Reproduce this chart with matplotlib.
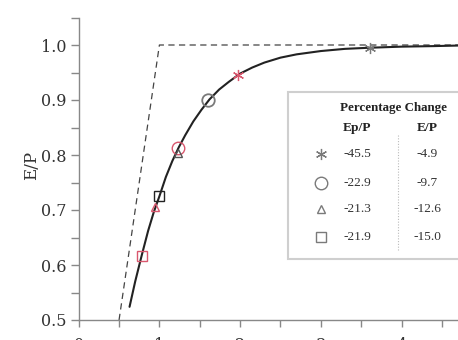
import matplotlib
matplotlib.use("Agg")
import matplotlib.pyplot as plt
from matplotlib.patches import Rectangle
from matplotlib.lines import Line2D

# ---- data ----
curve_x = [0.63, 0.70, 0.78, 0.86, 0.93, 1.00, 1.08, 1.16, 1.24, 1.32, 1.42, 1.52,
           1.62, 1.74, 1.86, 2.00, 2.15, 2.30, 2.50, 2.70, 3.00, 3.30, 3.60, 4.00, 4.40, 4.70]
curve_y = [0.524, 0.570, 0.617, 0.662, 0.696, 0.725, 0.760, 0.789, 0.814, 0.836, 0.861, 0.882,
           0.901, 0.919, 0.933, 0.948, 0.959, 0.968, 0.977, 0.983, 0.989, 0.993, 0.995, 0.997, 0.998, 0.999]

limit_x = [0.5, 1.0, 4.7]
limit_y = [0.5, 1.0, 1.0]

# markers: (x, y) pairs per symbol, red = reduced, dark = base
star_x = [1.97, 3.61]
star_y = [0.945, 0.995]
circle_x = [1.236, 1.60]
circle_y = [0.813, 0.900]
tri_x = [0.95, 1.23]
tri_y = [0.705, 0.804]
square_x = [0.78, 1.00]
square_y = [0.617, 0.725]

# table of percentage change
table_header = "Percentage Change"
col_labels = ["Ep/P", "E/P"]
ep_change = ["-45.5", "-22.9", "-21.3", "-21.9"]
e_change = ["-4.9", "-9.7", "-12.6", "-15.0"]

yticks = [0.5, 0.6, 0.7, 0.8, 0.9, 1.0]
xticks = [0, 1, 2, 3, 4]

# ---- figure ----
W, H = 458, 340
fig = plt.figure(figsize=(W / 100, H / 100), dpi=100)
ax = fig.add_axes([78.7 / W, 20 / H, 1 - 78.7 / W, 302.5 / H])
ax.set_xlim(0, 4.7)
ax.set_ylim(0.5, 1.05)

red = "#d9576e"
dark = "#555555"
gray = "#7a7a7a"
asterisk = (6, 2, 0)

ax.plot(limit_x, limit_y, color="#444444", lw=0.9, ls=(0, (5, 3.5)))
ax.plot(curve_x, curve_y, color="#222222", lw=1.5, solid_capstyle="round")

ax.plot(star_x[0], star_y[0], marker=asterisk, ms=8, mec=red, mew=0.9, ls="none")
ax.plot(star_x[1], star_y[1], marker=asterisk, ms=8, mec=gray, mew=0.9, ls="none")
ax.plot(circle_x[0], circle_y[0], marker="o", ms=9, mfc="none", mec=red, mew=1.0, ls="none")
ax.plot(circle_x[1], circle_y[1], marker="o", ms=9, mfc="none", mec=gray, mew=1.3, ls="none")
ax.plot(tri_x[0], tri_y[0], marker="^", ms=6, mfc="none", mec=red, mew=1.0, ls="none")
ax.plot(tri_x[1], tri_y[1], marker="^", ms=6, mfc="none", mec=dark, mew=1.0, ls="none")
ax.plot(square_x[0], square_y[0], marker="s", ms=7, mfc="none", mec=red, mew=1.0, ls="none")
ax.plot(square_x[1], square_y[1], marker="s", ms=7, mfc="none", mec="#222222", mew=1.0, ls="none")

for s in ["top", "right"]:
    ax.spines[s].set_visible(False)
for s in ["left", "bottom"]:
    ax.spines[s].set_color("#888888")
    ax.spines[s].set_linewidth(1.0)

ax.set_yticks(yticks)
ax.set_yticklabels([f"{v:.1f}" for v in yticks])
ax.set_yticks([0.55, 0.65, 0.75, 0.85, 0.95, 1.05], minor=True)
ax.set_xticks(xticks)
ax.set_xticklabels([str(v) for v in xticks])
ax.set_xticks([0.5, 1.5, 2.5, 3.5, 4.5], minor=True)
ax.tick_params(which="both", direction="out", color="#888888", width=1.0,
               labelsize=11.5, labelcolor="#333333", pad=3)
ax.tick_params(axis="y", which="both", length=6)
ax.tick_params(axis="x", which="both", length=5, pad=7)
for lab in ax.get_xticklabels() + ax.get_yticklabels():
    lab.set_family("DejaVu Serif")

ax.set_ylabel("E/P", family="DejaVu Serif", fontsize=12, color="#333333")
ax.yaxis.set_label_coords(-0.103, 0.512)

# ---- percentage-change table box ----
def fx(px):
    return px / W

def fy(py):
    return 1 - py / H

box = Rectangle((fx(288), fy(259)), fx(480) - fx(288), fy(92) - fy(259),
                transform=fig.transFigure, facecolor="white", edgecolor="#cfcfcf",
                lw=1.5, clip_on=False)
fig.patches.append(box)
fig.add_artist(Line2D([fx(398), fx(398)], [fy(135), fy(250)], transform=fig.transFigure,
                      color="#bbbbbb", lw=0.8, ls=(0, (1, 1.5))))

serif = "Liberation Serif"
fig.text(fx(393), fy(108), table_header, ha="center", va="center", family=serif,
         weight="bold", fontsize=9.4, color="#222222")
fig.text(fx(357), fy(128), col_labels[0], ha="center", va="center", family=serif,
         weight="bold", fontsize=9.6, color="#222222")
fig.text(fx(427), fy(128), col_labels[1], ha="center", va="center", family=serif,
         weight="bold", fontsize=9.6, color="#222222")

row_y = [154, 182.7, 209, 236.7]
leg_markers = [(asterisk, 8, 0.9), ("o", 9, 1.0), ("^", 6, 1.0), ("s", 7, 1.0)]
for i, (m, ms, mw) in enumerate(leg_markers):
    fig.add_artist(Line2D([fx(320.7)], [fy(row_y[i])], transform=fig.transFigure,
                          marker=m, ms=ms, mfc="none", mec=gray, mew=mw, ls="none"))
    fig.text(fx(357), fy(row_y[i]), ep_change[i], ha="center", va="center", family=serif,
             fontsize=9.6, color="#333333")
    fig.text(fx(427), fy(row_y[i]), e_change[i], ha="center", va="center", family=serif,
             fontsize=9.6, color="#333333")

fig.savefig("out.png", dpi=100)
